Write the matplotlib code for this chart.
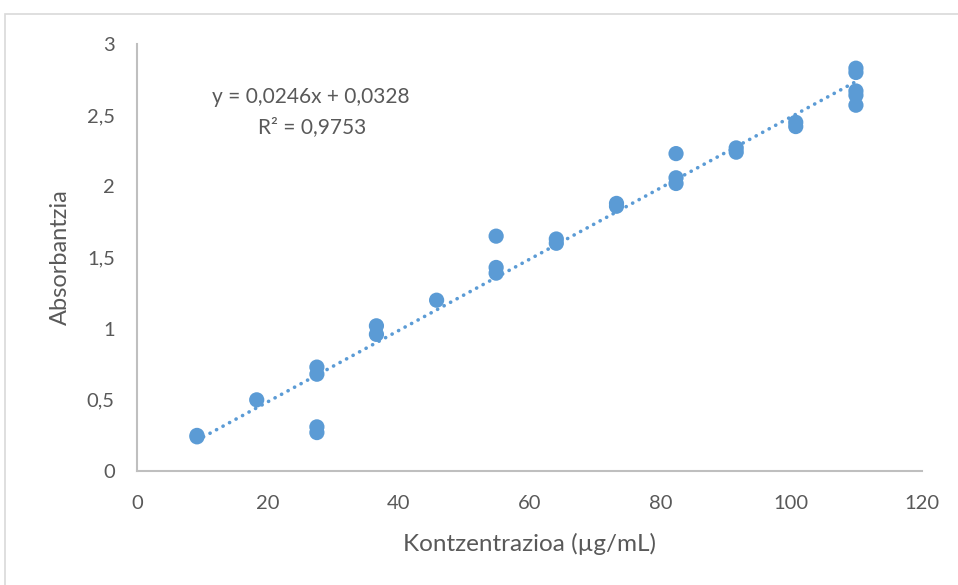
import numpy as np
import matplotlib.pyplot as plt
from matplotlib.patches import Rectangle

# Datos (concentracion vs absorbancia)
konz = [9.17, 9.17, 18.3, 27.5, 27.5, 27.5, 27.5, 36.6, 36.6, 45.8,
        54.9, 54.9, 54.9, 64.1, 64.1, 73.3, 73.3, 82.4, 82.4, 82.4,
        91.6, 91.6, 100.7, 100.7, 109.9, 109.9, 109.9, 109.9, 109.9]
absor = [0.24, 0.25, 0.50, 0.73, 0.68, 0.31, 0.27, 1.02, 0.96, 1.20,
         1.65, 1.43, 1.39, 1.63, 1.60, 1.88, 1.86, 2.23, 2.06, 2.02,
         2.27, 2.24, 2.45, 2.42, 2.83, 2.80, 2.67, 2.64, 2.57]

xticks = [0, 20, 40, 60, 80, 100, 120]
yticks = [0, 0.5, 1, 1.5, 2, 2.5, 3]
ytick_labels = ['0', '0,5', '1', '1,5', '2', '2,5', '3']

azul = '#5B9BD5'
gris = '#595959'
plt.rcParams['font.family'] = ['Lato', 'DejaVu Sans']

fig = plt.figure(figsize=(9.58, 5.85), dpi=100)
fig.patches.append(Rectangle((5 / 958, -0.1), 1.1, 0.1 + (585 - 14) / 585,
                             transform=fig.transFigure, fill=False,
                             edgecolor='#D9D9D9', linewidth=1.2))
ax = fig.add_axes([137 / 958, 114 / 585, 785 / 958, 427 / 585])

x = np.array(konz)
y = np.array(absor)
ax.scatter(x, y, s=120, color=azul, zorder=3, edgecolors='none')

# Linea de tendencia lineal
m, b = np.polyfit(x, y, 1)
xl = np.array([x.min(), x.max()])
ax.plot(xl, m * xl + b, color=azul, linewidth=2.6,
        linestyle=(0, (0.05, 2.0)), dash_capstyle='round', zorder=2)

fig.text(311 / 958, 1 - 97 / 585, 'y = 0,0246x + 0,0328', ha='center',
         va='center', fontsize=15, color=gris)
fig.text(312 / 958, 1 - 127 / 585, 'R² = 0,9753', ha='center',
         va='center', fontsize=15, color=gris)

ax.set_xlim(0, 120)
ax.set_ylim(0, 3)
ax.set_xticks(xticks)
ax.set_yticks(yticks)
ax.set_yticklabels(ytick_labels)
ax.tick_params(length=0, labelsize=14.5, labelcolor=gris)
ax.tick_params(axis='y', pad=16)
ax.tick_params(axis='x', pad=17)

for s in ['top', 'right']:
    ax.spines[s].set_visible(False)
for s in ['left', 'bottom']:
    ax.spines[s].set_color('#BFBFBF')
    ax.spines[s].set_linewidth(1.5)

ax.set_xlabel('Kontzentrazioa (µg/mL)', fontsize=17.5, color=gris, va='center')
ax.set_ylabel('Absorbantzia', fontsize=17, color=gris, va='center')
ax.xaxis.set_label_coords(0.5, (471 - 544) / 427)
ax.yaxis.set_label_coords((60 - 137) / 785, 0.5)

plt.savefig('out.png', dpi=100, facecolor='white')
plt.close()
